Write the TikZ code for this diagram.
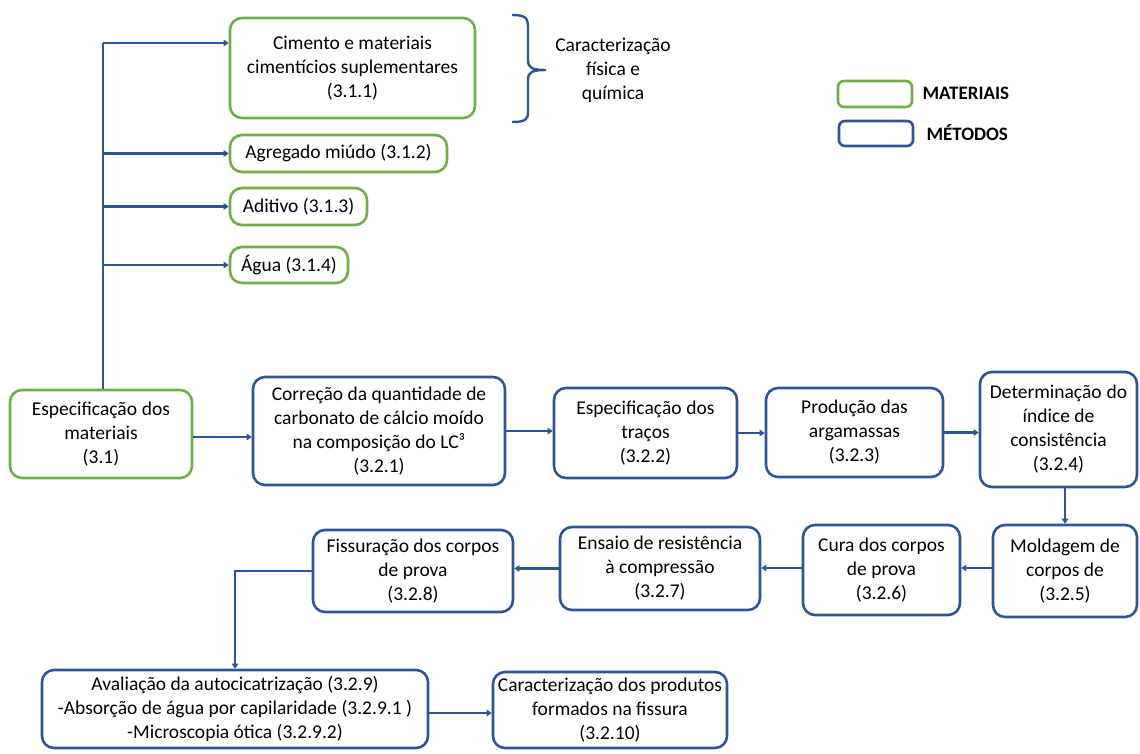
\documentclass[tikz,border=0pt]{standalone}
\usepackage{fontspec}
\setmainfont{Carlito}
\usetikzlibrary{arrows.meta}
\definecolor{matgreen}{RGB}{112,173,71}
\definecolor{metblue}{RGB}{47,85,151}
\newcommand{\wsp}{\hspace{0.25em}}
\begin{document}
\begin{tikzpicture}[x=1pt,y=-1pt,
  font=\fontsize{19.5}{24}\selectfont,
  box/.style={draw, line width=2.6pt, rounded corners=12pt, align=center, inner sep=0pt},
  mat/.style={box, draw=matgreen},
  met/.style={box, draw=metblue},
  link/.style={draw=metblue, line width=2.2pt},
  arr/.style={link, -{Triangle[width=6.5pt,length=5pt]}}]
\useasboundingbox (0,0) rectangle (1140,753);
% materials
\node[mat, minimum width=245pt, minimum height=100pt] (b311) at (352.5,68) {Cimento e materiais\\cimentícios suplementares\\(3.1.1)};
\node[mat, minimum width=217pt, minimum height=37pt] (b312) at (338.5,153.5) {Agregado miúdo (3.1.2)};
\node[mat, minimum width=137pt, minimum height=37pt] (b313) at (298.5,206.5) {Aditivo (3.1.3)};
\node[mat, minimum width=118pt, minimum height=36pt] (b314) at (289,265) {Água (3.1.4)};
\node[mat, minimum width=182pt, minimum height=88pt] (spec) at (101,434) {Especificação\wsp dos\\materiais\\(3.1)};
% brace and note
\draw[link, line width=2.4pt] (512,15) .. controls (526,15) and (528,18) .. (528,28) -- (528,60)
  .. controls (528,68) and (532,70) .. (546,70) .. controls (532,70) and (528,72) .. (528,80)
  -- (528,112) .. controls (528,119) and (526,122) .. (512,122);
\node[align=center] (note) at (613,70) {Caracterização\\física e\\química};
% legend
\node[mat, rounded corners=6pt, minimum width=74pt, minimum height=26pt] (legmat) at (875,94) {};
\node[met, rounded corners=6pt, minimum width=74pt, minimum height=25pt] (legmet) at (876,133.5) {};
\node[anchor=west, font=\fontsize{19}{24}\selectfont\bfseries] (legmatt) at (919,93) {MATERIAIS};
\node[anchor=west, font=\fontsize{19}{24}\selectfont\bfseries] (legmett) at (923,133) {MÉTODOS};
% methods row 1
\node[met, minimum width=252pt, minimum height=108pt] (c321) at (379,431) {Correção da quantidade de\\carbonato de cálcio moído\\na composição do LC³\\(3.2.1)};
\node[met, minimum width=183pt, minimum height=90pt] (c322) at (645.5,433) {Especificação\wsp dos\\traços\\(3.2.2)};
\node[met, minimum width=177pt, minimum height=89pt] (c323) at (854.5,432.5) {Produção das\\argamassas\\(3.2.3)};
\node[met, minimum width=157pt, minimum height=115pt] (c324) at (1058.5,429.5) {Determinação\wsp do\\índice de\\consistência\\(3.2.4)};
% row 2
\node[met, minimum width=144pt, minimum height=92pt] (c325) at (1065,571) {Moldagem de\\corpos de\\(3.2.5)};
\node[met, minimum width=157pt, minimum height=90pt] (c326) at (881.5,570) {Cura dos corpos\\de prova\\(3.2.6)};
\node[met, minimum width=200pt, minimum height=83pt] (c327) at (660,568.5) {Ensaio de resistência\\à compressão\\(3.2.7)};
\node[met, minimum width=200pt, minimum height=82pt] (c328) at (413,571) {Fissuração dos corpos\\de prova\\(3.2.8)};
% row 3
\node[met, minimum width=386pt, minimum height=78pt] (c329) at (235,709) {Avaliação da autocicatrização (3.2.9)\\-Absorção de água por capilaridade (3.2.9.1 )\\-Microscopia ótica (3.2.9.2)};
\node[met, minimum width=234pt, minimum height=76pt] (c3210) at (610,710) {Caracterização dos produtos\\formados na fissura\\(3.2.10)};
% connectors
\coordinate (t1) at (103,43);
\draw[link] (spec.north -| t1) -- (t1);
\draw[arr] (t1) -- (t1 -| b311.west);
\draw[arr] (t1 |- b312.west) -- (b312.west);
\draw[arr] (t1 |- b313.west) -- (b313.west);
\draw[arr] (t1 |- b314.west) -- (b314.west);
\draw[arr] ([yshift=-3pt]spec.east) -- ([yshift=-3pt]spec.east -| c321.west);
\draw[arr] (c321.east) -- (c321.east -| c322.west);
\draw[arr] (c322.east) -- (c322.east -| c323.west);
\draw[arr] (c323.east) -- (c323.east -| c324.west);
\draw[arr] (c325.north |- c324.south) -- (c325.north);
\draw[arr] ([yshift=3pt]c325.west) -- ([yshift=3pt]c325.west -| c326.east);
\draw[arr] ([yshift=2pt]c326.west) -- ([yshift=2pt]c326.west -| c327.east);
\draw[arr] (c327.west) -- (c327.west -| c328.east);
\draw[arr] (c328.west) -| (c329.north);
\draw[arr] ([yshift=-4pt]c329.east) -- ([yshift=-4pt]c329.east -| c3210.west);
\end{tikzpicture}
\end{document}
